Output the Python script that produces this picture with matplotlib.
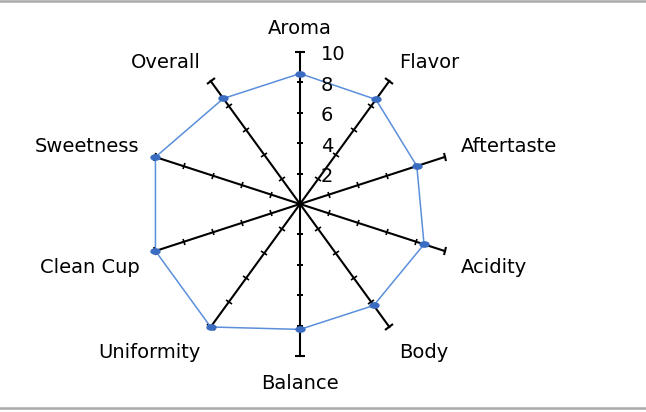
import numpy as np
import matplotlib
matplotlib.use("Agg")
import matplotlib.pyplot as plt
from matplotlib.lines import Line2D
from matplotlib.markers import MarkerStyle
from matplotlib.transforms import Affine2D

# cupping scores
categories = ["Aroma", "Flavor", "Aftertaste", "Acidity", "Body",
              "Balance", "Uniformity", "Clean Cup", "Sweetness", "Overall"]
scores = [8.58, 8.50, 8.08, 8.58, 8.25, 8.25, 10.0, 10.0, 10.0, 8.58]
tick_values = [2, 4, 6, 8, 10]

fig = plt.figure(figsize=(6.46, 4.12), dpi=100)
ax = fig.add_axes([0.2291, 0.1359, 0.4706, 0.7379], projection="polar")
ax.set_theta_zero_location("N")
ax.set_theta_direction(-1)
ax.set_ylim(0, 10)
ax.grid(False)
ax.spines["polar"].set_visible(False)
ax.set_xticks([])
ax.set_yticks([])
ax.patch.set_alpha(0)

angles = np.linspace(0, 2 * np.pi, len(categories), endpoint=False)

# spokes with perpendicular tick marks
for ang in angles:
    ax.plot([ang, ang], [0, 10], color="black", lw=1.5, zorder=2, clip_on=False)
    tick = MarkerStyle("_", transform=Affine2D().rotate_deg(-np.degrees(ang)))
    ax.plot([ang] * 4, tick_values[:-1], ls="none", marker=tick,
            markersize=4.8, mew=1.2, color="black", zorder=2)
    ax.plot([ang], [tick_values[-1]], ls="none", marker=tick,
            markersize=6.5, mew=1.5, color="black", zorder=2, clip_on=False)

# score polygon
a_closed = np.append(angles, angles[0])
s_closed = scores + scores[:1]
ax.plot(a_closed, s_closed, color="#5b8fdb", lw=1.1, zorder=3, clip_on=False)
dot = MarkerStyle("o", transform=Affine2D().scale(1.7, 1.0))
ax.plot(angles, scores, ls="none", marker=dot, markersize=3.8,
        color="#3a6cc2", zorder=4, clip_on=False)

# radial labels beside the first spoke
for v in tick_values:
    ax.annotate(str(v), (0, v), xytext=(21, -3), textcoords="offset pixels",
                ha="left", va="center", fontsize=14, zorder=5,
                annotation_clip=False)

# category labels
for ang, name in zip(angles, categories):
    s, c = np.sin(ang), np.cos(ang)
    if abs(s) < 1e-6:
        r = 11.55 if c > 0 else 11.8
        ax.text(ang, r, name, ha="center", va="center", fontsize=14)
    else:
        dy = 5 if c > 0 else -11.5
        ax.annotate(name, (ang, 11.1), xytext=(0, dy),
                    textcoords="offset pixels", annotation_clip=False,
                    ha="left" if s > 0 else "right", va="center", fontsize=14)

# grey frame lines of the screenshot
fig.add_artist(Line2D([0, 1], [1 - 1 / 412, 1 - 1 / 412],
                      transform=fig.transFigure, color="#aaaaaa", lw=1.8))
fig.add_artist(Line2D([0, 1], [4 / 412, 4 / 412],
                      transform=fig.transFigure, color="#aaaaaa", lw=1.8))

fig.savefig("out.png", dpi=100)
